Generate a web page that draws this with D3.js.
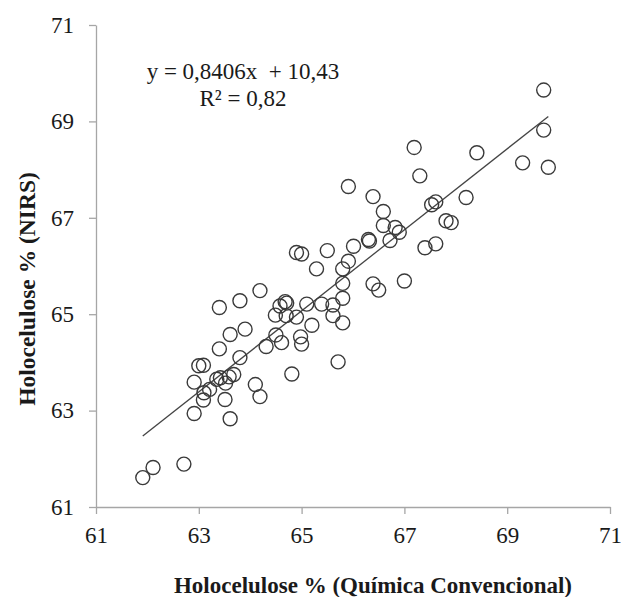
<!DOCTYPE html>
<html>
<head>
<meta charset="utf-8">
<script src="https://cdn.jsdelivr.net/npm/d3@7"></script>
<style>
  html, body { margin: 0; padding: 0; background: #ffffff; }
  svg { display: block; }
</style>
</head>
<body>
<svg id="chart" width="621" height="597"></svg>
<script>
// Holocelulose % — Química Convencional (x) vs NIRS (y)
const quimica = [
  69.71, 69.71, 69.80, 69.30, 68.41, 67.19, 67.30, 65.91, 66.39, 68.20,
  66.59, 67.53, 67.61, 66.59, 66.82, 66.90, 66.72, 66.30, 66.32, 67.81,
  67.91, 67.40, 67.61, 66.01, 65.50, 65.91, 65.80, 65.29, 65.80, 66.39,
  66.50, 67.00, 65.80, 65.61, 65.61, 65.80, 65.71, 64.90, 65.00, 64.19,
  63.80, 63.40, 64.58, 64.68, 64.71, 65.10, 65.39, 64.49, 64.70, 64.90,
  65.20, 63.90, 63.61, 64.50, 64.98, 65.00, 64.61, 64.31, 63.40, 63.80,
  63.00, 63.09, 62.91, 63.35, 63.42, 63.68, 63.59, 63.52, 63.21, 63.10,
  63.09, 63.51, 62.91, 63.61, 64.10, 64.19, 64.81, 61.91, 62.11, 62.71
];
const nirs = [
  69.65, 68.82, 68.05, 68.14, 68.35, 68.46, 67.87, 67.65, 67.44, 67.42,
  67.13, 67.27, 67.33, 66.84, 66.80, 66.70, 66.53, 66.55, 66.52, 66.94,
  66.90, 66.38, 66.46, 66.41, 66.32, 66.10, 65.94, 65.94, 65.64, 65.63,
  65.50, 65.69, 65.33, 65.19, 64.97, 64.82, 64.01, 66.28, 66.25, 65.49,
  65.28, 65.14, 65.17, 65.26, 65.23, 65.21, 65.21, 64.98, 64.97, 64.94,
  64.77, 64.69, 64.58, 64.57, 64.53, 64.38, 64.41, 64.33, 64.28, 64.10,
  63.93, 63.94, 63.59, 63.65, 63.68, 63.75, 63.70, 63.57, 63.44, 63.37,
  63.22, 63.23, 62.94, 62.83, 63.54, 63.29, 63.76, 61.61, 61.82, 61.89
];
const xTicks = [61, 63, 65, 67, 69, 71];
const yTicks = [61, 63, 65, 67, 69, 71];
const slope = 0.8406;
const intercept = 10.43;
const equationText = "y = 0,8406x  + 10,43";
const r2Text = "R² = 0,82";
const xTitle = "Holocelulose % (Química Convencional)";
const yTitle = "Holocelulose % (NIRS)";

const W = 621, H = 597;
const margin = { left: 96, right: 11, top: 25, bottom: 90 };
const svg = d3.select("#chart");

const x = d3.scaleLinear().domain([61, 71]).range([margin.left, W - margin.right]);
const y = d3.scaleLinear().domain([61, 71]).range([H - margin.bottom, margin.top]);

const serif = "'Liberation Serif', 'Times New Roman', serif";
const axisColor = "#a6a6a6";

// X axis
const gx = svg.append("g")
  .attr("transform", `translate(0,${H - margin.bottom})`)
  .call(d3.axisBottom(x).tickValues(xTicks).tickFormat(d3.format("d")).tickSize(7).tickPadding(13).tickSizeOuter(0));
gx.select(".domain").attr("stroke", axisColor).attr("stroke-width", 1.3);
gx.selectAll(".tick line").attr("stroke", axisColor).attr("stroke-width", 1.3);
gx.selectAll(".tick text").attr("font-family", serif).attr("font-size", 23).attr("fill", "#1a1a1a");

// Y axis
const gy = svg.append("g")
  .attr("transform", `translate(${margin.left},0)`)
  .call(d3.axisLeft(y).tickValues(yTicks).tickFormat(d3.format("d")).tickSize(7).tickPadding(15).tickSizeOuter(0));
gy.select(".domain").attr("stroke", axisColor).attr("stroke-width", 1.3);
gy.selectAll(".tick line").attr("stroke", axisColor).attr("stroke-width", 1.3);
gy.selectAll(".tick text").attr("font-family", serif).attr("font-size", 23).attr("fill", "#1a1a1a");

// Trend line
const pts = quimica.map((q, i) => ({ q, n: nirs[i] }));
const xmin = d3.min(quimica), xmax = d3.max(quimica);
const line = d3.line().x(d => x(d)).y(d => y(slope * d + intercept));
svg.append("path")
  .datum([xmin, xmax])
  .attr("d", line)
  .attr("fill", "none")
  .attr("stroke", "#444")
  .attr("stroke-width", 1.3);

// Points
svg.append("g").selectAll("circle")
  .data(pts)
  .join("circle")
  .attr("cx", d => x(d.q))
  .attr("cy", d => y(d.n))
  .attr("r", 7)
  .attr("fill", "none")
  .attr("stroke", "#3a3a3a")
  .attr("stroke-width", 1.4);

// Equation
svg.append("text")
  .attr("x", 243).attr("y", 79)
  .attr("text-anchor", "middle")
  .style("white-space", "pre")
  .attr("font-family", serif).attr("font-size", 23).attr("fill", "#1a1a1a")
  .text(equationText);
svg.append("text")
  .attr("x", 243).attr("y", 106)
  .attr("text-anchor", "middle")
  .attr("font-family", serif).attr("font-size", 23).attr("fill", "#1a1a1a")
  .text(r2Text);

// Axis titles
svg.append("text")
  .attr("x", 373).attr("y", 593)
  .attr("text-anchor", "middle")
  .attr("font-family", serif).attr("font-size", 23).attr("font-weight", "bold").attr("fill", "#1a1a1a")
  .text(xTitle);
svg.append("text")
  .attr("transform", "translate(35,289) rotate(-90)")
  .attr("text-anchor", "middle")
  .attr("font-family", serif).attr("font-size", 23.5).attr("font-weight", "bold").attr("fill", "#1a1a1a")
  .text(yTitle);
</script>
</body>
</html>
